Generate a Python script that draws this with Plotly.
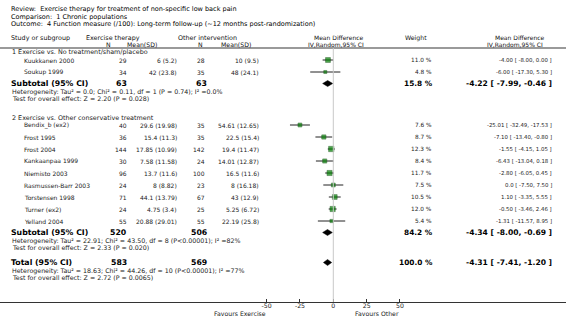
import plotly.graph_objects as go

# ---------------- data ----------------
title_lines = [
    "Review:\u00a0\u00a0Exercise therapy for treatment of non-specific low back pain",
    "Comparison:\u00a0\u00a01 Chronic populations",
    "Outcome:\u00a0\u00a04 Function measure (/100): Long-term follow-up (~12 months post-randomization)",
]

group_names = ["1 Exercise vs. No treatment/sham/placebo",
               "2 Exercise vs. Other conservative treatment"]

g1_studies = ["Kuukkanen 2000", "Soukup 1999"]
g1_exp_n = [29, 34]
g1_exp_msd = ["6 (5.2)", "42 (23.8)"]
g1_ctl_n = [28, 35]
g1_ctl_msd = ["10 (9.5)", "48 (24.1)"]
g1_weight = [11.0, 4.8]
g1_md = [-4.00, -6.00]
g1_lo = [-8.00, -17.30]
g1_hi = [0.00, 5.30]
g1_ci_text = ["-4.00 [ -8.00, 0.00 ]", "-6.00 [ -17.30, 5.30 ]"]

g2_studies = ["Bendix_b (ex2)", "Frost 1995", "Frost 2004", "Kankaanpaa 1999",
              "Niemisto 2003", "Rasmussen-Barr 2003", "Torstensen 1998",
              "Turner (ex2)", "Yelland 2004"]
g2_exp_n = [40, 36, 144, 30, 96, 24, 71, 24, 55]
g2_exp_msd = ["29.6 (19.98)", "15.4 (11.3)", "17.85 (10.99)", "7.58 (11.58)",
              "13.7 (11.6)", "8 (8.82)", "44.1 (13.79)", "4.75 (3.4)", "20.88 (29.01)"]
g2_ctl_n = [35, 35, 142, 24, 100, 23, 67, 25, 55]
g2_ctl_msd = ["54.61 (12.65)", "22.5 (15.4)", "19.4 (11.47)", "14.01 (12.87)",
              "16.5 (11.6)", "8 (16.18)", "43 (12.9)", "5.25 (6.72)", "22.19 (25.8)"]
g2_weight = [7.6, 8.7, 12.3, 8.4, 11.7, 7.5, 10.5, 12.0, 5.4]
g2_md = [-25.01, -7.10, -1.55, -6.43, -2.80, 0.0, 1.10, -0.50, -1.31]
g2_lo = [-32.49, -13.40, -4.15, -13.04, -6.05, -7.50, -3.35, -3.46, -11.57]
g2_hi = [-17.53, -0.80, 1.05, 0.18, 0.45, 7.50, 5.55, 2.46, 8.95]
g2_ci_text = ["-25.01 [ -32.49, -17.53 ]", "-7.10 [ -13.40, -0.80 ]", "-1.55 [ -4.15, 1.05 ]",
              "-6.43 [ -13.04, 0.18 ]", "-2.80 [ -6.05, 0.45 ]", "0.0 [ -7.50, 7.50 ]",
              "1.10 [ -3.35, 5.55 ]", "-0.50 [ -3.46, 2.46 ]", "-1.31 [ -11.57, 8.95 ]"]

summary_labels = ["Subtotal (95% CI)", "Subtotal (95% CI)", "Total (95% CI)"]
summary_exp_n = [63, 520, 583]
summary_ctl_n = [63, 506, 569]
summary_weight = ["15.8 %", "84.2 %", "100.0 %"]
summary_md = [-4.22, -4.34, -4.31]
summary_lo = [-7.99, -8.00, -7.41]
summary_hi = [-0.46, -0.69, -1.20]
summary_ci_text = ["-4.22 [ -7.99, -0.46 ]", "-4.34 [ -8.00, -0.69 ]", "-4.31 [ -7.41, -1.20 ]"]
summary_het = [
    "Heterogeneity: Tau\u00b2 = 0.0; Chi\u00b2 = 0.11, df = 1 (P = 0.74); I\u00b2 =0.0%",
    "Heterogeneity: Tau\u00b2 = 22.91; Chi\u00b2 = 43.50, df = 8 (P<0.00001); I\u00b2 =82%",
    "Heterogeneity: Tau\u00b2 = 18.63; Chi\u00b2 = 44.26, df = 10 (P<0.00001); I\u00b2 =77%",
]
summary_test = [
    "Test for overall effect: Z = 2.20 (P = 0.028)",
    "Test for overall effect: Z = 2.33 (P = 0.020)",
    "Test for overall effect: Z = 2.72 (P = 0.0065)",
]

tick_vals = [-50, -25, 0, 25, 50]
tick_labels = ["-50", "-25", "0", "25", "50"]
favours_left = "Favours Exercise"
favours_right = "Favours Other"

# ---------------- layout helpers ----------------
W, H = 566, 332
AX_Y = 302          # pixel y of the axis line
PX_PER_UNIT = 4 / 3.0
ZERO_PX = 333.3
x_min = -ZERO_PX / PX_PER_UNIT
x_max = (W - ZERO_PX) / PX_PER_UNIT

FONT = "DejaVu Sans"
TXT = "#222222"

# row positions (pixels from top)
g1_header_y = 52
g1_rows_y = [60, 72]
g2_header_y = 118
g2_rows_y = [125 + 12 * i for i in range(9)]
summary_y = [83.5, 232.5, 262.5]
het_dy, test_dy = 8, 14.5

ann = []


def text(px, py, s, anchor="left", size=6.3, bold=False, color=TXT):
    ann.append(dict(
        x=px / W, xref="paper", y=py, yref="y", text=("<b>%s</b>" % s) if bold else s,
        showarrow=False, xanchor=anchor, yanchor="middle", borderpad=0, borderwidth=0,
        font=dict(family=FONT, size=size, color=color)))


# title block
for i, line in enumerate(title_lines):
    text(11, 9 + 7.5 * i, line, size=6.5, color="#000")

# column headers
HDR = "#111"
text(11, 37.8, "Study or subgroup", size=6.4, color=HDR)
text(86, 37.8, "Exercise therapy", size=6.4, color=HDR)
text(108, 44, "N", anchor="center", size=6.2, color=HDR)
text(157, 44, "Mean(SD)", anchor="right", size=6.2, color=HDR)
text(178, 37.8, "Other intervention", size=6.4, color=HDR)
text(200, 44, "N", anchor="center", size=6.2, color=HDR)
text(251, 44, "Mean(SD)", anchor="right", size=6.2, color=HDR)
text(338, 37.5, "Mean Difference", anchor="center", size=6.0, color=HDR)
text(336, 44, "IV,Random,95% CI", anchor="center", size=6.0, color=HDR)
text(416, 38, "Weight", anchor="center", size=6.2, color=HDR)
text(519, 37.5, "Mean Difference", anchor="center", size=6.0, color=HDR)
text(515, 44, "IV,Random,95% CI", anchor="center", size=6.0, color=HDR)

# study rows
groups = [
    (g1_header_y, group_names[0], g1_rows_y, g1_studies, g1_exp_n, g1_exp_msd, g1_ctl_n,
     g1_ctl_msd, g1_weight, g1_ci_text),
    (g2_header_y, group_names[1], g2_rows_y, g2_studies, g2_exp_n, g2_exp_msd, g2_ctl_n,
     g2_ctl_msd, g2_weight, g2_ci_text),
]
for hy, gname, ys, names, en, emsd, cn, cmsd, wts, cis in groups:
    text(12, hy, gname, size=6.4)
    for y, nm, a, b, c, d, w, ci in zip(ys, names, en, emsd, cn, cmsd, wts, cis):
        text(24, y, nm, size=6.0)
        text(127, y, str(a), anchor="right", size=6.0)
        text(177, y, b, anchor="right", size=6.0)
        text(205, y, str(c), anchor="right", size=6.0)
        text(259, y, d, anchor="right", size=6.0)
        text(432, y, "%.1f %%" % w, anchor="right", size=5.8)
        text(552, y, ci, anchor="right", size=5.4)

for y, lab, en, cn, wt, ci, het, tst in zip(summary_y, summary_labels, summary_exp_n,
                                             summary_ctl_n, summary_weight, summary_ci_text,
                                             summary_het, summary_test):
    text(11, y, lab, bold=True, size=7.8, color="#000")
    text(127, y, str(en), anchor="right", bold=True, size=7.8, color="#000")
    text(207, y, str(cn), anchor="right", bold=True, size=7.8, color="#000")
    text(433, y, wt, anchor="right", bold=True, size=7.4, color="#000")
    text(552, y, ci, anchor="right", bold=True, size=7.6, color="#000")
    text(12, y + het_dy, het, size=6.3)
    text(12, y + test_dy, tst, size=6.3)

# favours labels (under the axis)
fav_y = -(313 - AX_Y) / AX_Y
ann.append(dict(x=tick_vals[0], xref="x", y=fav_y, yref="paper", text=favours_left,
                showarrow=False, xanchor="right", yanchor="middle", borderpad=0,
                font=dict(family=FONT, size=6.2, color=TXT)))
ann.append(dict(x=tick_vals[-1], xref="x", y=fav_y, yref="paper", text=favours_right,
                showarrow=False, xanchor="right", yanchor="middle", borderpad=0,
                font=dict(family=FONT, size=6.2, color=TXT)))

# ---------------- traces ----------------
all_y = g1_rows_y + g2_rows_y
all_md = g1_md + g2_md
all_lo = g1_lo + g2_lo
all_hi = g1_hi + g2_hi
all_w = g1_weight + g2_weight

ci_x, ci_y = [], []
for y, lo, hi in zip(all_y, all_lo, all_hi):
    ci_x += [lo, hi, None]
    ci_y += [y, y, None]

fig = go.Figure()
fig.add_trace(go.Scatter(x=ci_x, y=ci_y, mode="lines",
                         line=dict(color="#222", width=1), hoverinfo="skip"))
fig.add_trace(go.Scatter(x=all_md, y=all_y, mode="markers",
                         marker=dict(symbol="square", color="#008000",
                                     size=[1.6 + 0.3 * w for w in all_w],
                                     line=dict(color="#004400", width=0.6)),
                         hoverinfo="skip"))
for y, m, lo, hi in zip(summary_y, summary_md, summary_lo, summary_hi):
    fig.add_trace(go.Scatter(x=[lo, m, hi, m, lo], y=[y, y - 3, y, y + 3, y],
                             mode="lines", fill="toself", fillcolor="#000",
                             line=dict(color="#000", width=0.5), hoverinfo="skip"))

shapes = [
    dict(type="line", xref="paper", yref="y", x0=0, x1=1, y0=48, y1=48,
         line=dict(color="#9a9a9a", width=2)),
    dict(type="line", xref="x", yref="y", x0=0, x1=0, y0=48, y1=AX_Y,
         line=dict(color="#c8c8c8", width=1)),
]

fig.update_layout(
    width=W, height=H, margin=dict(l=0, r=0, t=0, b=H - AX_Y),
    paper_bgcolor="white", plot_bgcolor="white", showlegend=False,
    annotations=ann, shapes=shapes,
    xaxis=dict(range=[x_min, x_max], tickvals=tick_vals, ticktext=tick_labels,
               ticks="inside", ticklen=3, tickcolor="#333", showline=True,
               linecolor="#333", linewidth=1, showgrid=False, zeroline=False,
               ticklabelstandoff=-2,
               tickfont=dict(family=FONT, size=6.2, color=TXT), fixedrange=True),
    yaxis=dict(range=[AX_Y, 0], visible=False, fixedrange=True),
)

fig.write_html("out.html")
